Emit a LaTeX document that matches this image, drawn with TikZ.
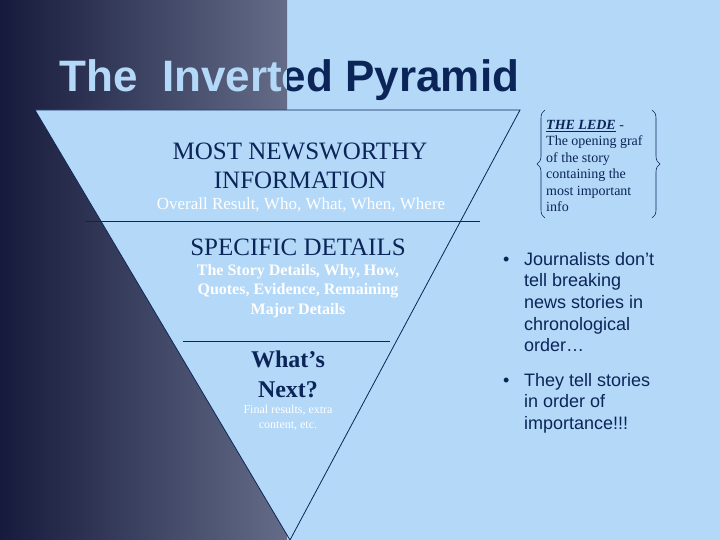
\documentclass[tikz,border=0pt]{standalone}
\usepackage{fontspec}
\setmainfont{Liberation Serif}
\newfontfamily\sansf{Liberation Sans}
\usetikzlibrary{decorations.pathreplacing}
\definecolor{lb}{HTML}{B4D8F8}
\definecolor{navy}{HTML}{0C2558}
\definecolor{dk}{HTML}{161A3C}
\definecolor{gr}{HTML}{646C88}
\tikzset{
 tri/.style={draw=navy,line width=0.8pt},
 dtxt/.style={text=navy,align=center,font=\fontsize{25}{29}\selectfont},
 wtxt/.style={text=white,align=center},
 brc/.style={decorate,decoration={brace,amplitude=8pt},draw=navy,line width=0.6pt},
 bul/.style={text=navy,font=\sansf\fontsize{18}{21.6}\selectfont,anchor=north west,inner sep=0pt}
}
\begin{document}
\begin{tikzpicture}[x=1pt,y=-1pt]
\useasboundingbox (0,0) rectangle (720,540);
\fill[lb] (0,0) rectangle (720,540);
\shade[left color=dk,right color=gr] (0,0) rectangle (287,540);
\fill[lb] (35,110) -- (520,110) -- (290,540) -- cycle;
\draw[tri] (35,110) coordinate (tl) -- (520,110) coordinate (tr) -- (290,540) coordinate (ap) -- cycle;
\draw[tri] (85,221) coordinate (l1) -- (480,221) coordinate (r1);
\draw[tri] (183,341) coordinate (l2) -- (390,341) coordinate (r2);
% title
\begin{scope}
\clip (0,0) rectangle (287,110);
\node[anchor=west,font=\sansf\bfseries\fontsize{44}{48}\selectfont,text=lb] (t1) at (56,80) {The\ \ Inverted Pyramid};
\end{scope}
\begin{scope}
\clip (287,0) rectangle (720,110);
\node[anchor=west,font=\sansf\bfseries\fontsize{44}{48}\selectfont,text=navy] (t2) at (56,80) {The\ \ Inverted Pyramid};
\end{scope}
\node[dtxt] (a) at (300,166) {MOST NEWSWORTHY\\INFORMATION};
\node[wtxt,font=\fontsize{17}{20}\selectfont] (a2) at (301,205) {Overall Result, Who, What, When, Where};
\node[dtxt,font=\fontsize{25}{29}\selectfont] (b) at (298,247) {SPECIFIC DETAILS};
\node[wtxt,font=\bfseries\fontsize{16}{19.5}\selectfont] (b2) at (298,291) {The Story Details, Why, How,\\Quotes, Evidence, Remaining\\Major Details};
\node[dtxt,font=\bfseries\fontsize{24}{30}\selectfont] (c) at (288,374) {What’s\\Next?};
\node[wtxt,font=\fontsize{12}{15}\selectfont] (c2) at (288,418) {Final results, extra\\content, etc.};
% lede
\coordinate (bl1) at (545,218); \coordinate (bl2) at (545,110);
\draw[brc] (bl1) -- (bl2);
\coordinate (br1) at (652,110); \coordinate (br2) at (652,218);
\draw[brc] (br1) -- (br2);
\node[anchor=north west,align=left,text=navy,font=\fontsize{14}{16.5}\selectfont,inner sep=0pt] (l) at (546,120) {\textbf{\textit{\underline{THE LEDE}}} -\\The opening graf\\of the story\\containing the\\most important\\info};
\node[bul] (p1) at (503,250) {\begin{tabular}{@{}p{21pt}@{}l@{}}•&Journalists don’t\\&tell breaking\\&news stories in\\&chronological\\&order…\end{tabular}};
\node[bul] (p2) at (503,371) {\begin{tabular}{@{}p{21pt}@{}l@{}}•&They tell stories\\&in order of\\&importance!!!\end{tabular}};
\end{tikzpicture}
\end{document}
